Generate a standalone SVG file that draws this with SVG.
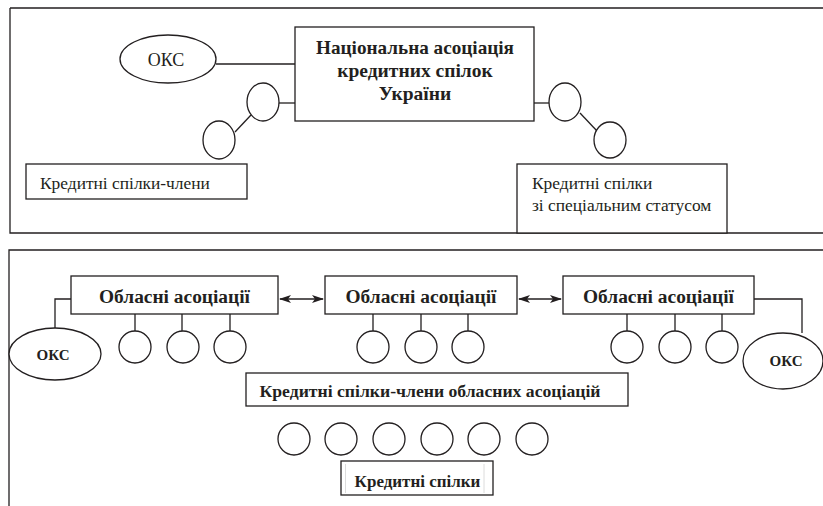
<svg xmlns="http://www.w3.org/2000/svg" width="823" height="506" viewBox="0 0 823 506">
<defs>
<marker id="ah" viewBox="0 0 12 8" refX="11" refY="4" markerWidth="12" markerHeight="8" markerUnits="userSpaceOnUse" orient="auto-start-reverse">
<path d="M0,0 L12,4 L0,8 L3,4 Z" fill="#231f20"/>
</marker>
</defs>
<style>
.b{fill:#fff;stroke:#231f20;stroke-width:1.3}
.l{fill:none;stroke:#231f20;stroke-width:1.3}
text{font-family:'Liberation Serif','DejaVu Serif',serif;fill:#231f20}
.bd{font-weight:bold}
</style>
<rect x="0" y="0" width="823" height="506" fill="#fff"/>
<g id="panel-top"><path class="l" d="M10,8 H823 M10,8 V233 H823"/></g>
<g id="panel-bottom"><path class="l" d="M9,506 V250 H823"/></g>
<g id="connectors">
<path class="l" d="M216,64 H295"/>
<path class="l" d="M279,103 H295"/>
<path class="l" d="M235,132 L251,115"/>
<path class="l" d="M534,103 H549"/>
<path class="l" d="M580,113 L597,131"/>
<path class="l" d="M71,299 H55 V329"/>
<path class="l" d="M754,299 H802 V333"/>
<path class="l" d="M280,299 H323" marker-start="url(#ah)" marker-end="url(#ah)"/>
<path class="l" d="M519,299 H561" marker-start="url(#ah)" marker-end="url(#ah)"/>
<path class="l" d="M135,314 V331 M182,314 V331 M230,314 V331"/>
<path class="l" d="M373,314 V331 M421,314 V331 M468,314 V331"/>
<path class="l" d="M627,314 V331 M675,314 V331 M722,314 V331"/>
</g>
<g id="nau">
<rect class="b" x="295" y="27" width="239" height="94"/>
<text class="bd" x="415" y="54" font-size="19.5" text-anchor="middle" textLength="198" lengthAdjust="spacingAndGlyphs">Національна асоціація</text>
<text class="bd" x="415" y="77" font-size="19.5" text-anchor="middle">кредитних спілок</text>
<text class="bd" x="415" y="100" font-size="19.5" text-anchor="middle">України</text>
</g>
<g id="oks-top">
<ellipse class="b" cx="168" cy="59" rx="48" ry="24"/>
<text x="166" y="66" font-size="18" text-anchor="middle">ОКС</text>
</g>
<g id="c-t1"><ellipse class="b" cx="263" cy="102" rx="16" ry="19"/></g>
<g id="c-t2"><ellipse class="b" cx="219" cy="140" rx="16" ry="19"/></g>
<g id="c-t3"><ellipse class="b" cx="565" cy="102" rx="16" ry="19"/></g>
<g id="c-t4"><ellipse class="b" cx="610" cy="140" rx="16" ry="18"/></g>
<g id="members">
<rect class="b" x="26" y="164" width="221" height="35"/>
<text x="40" y="189" font-size="17.4">Кредитні спілки-члени</text>
</g>
<g id="special">
<rect class="b" x="517" y="164" width="210" height="69"/>
<text x="532" y="189" font-size="17.4">Кредитні спілки</text>
<text x="532" y="211" font-size="17.4">зі спеціальним статусом</text>
</g>
<g id="obl1">
<rect class="b" x="71" y="276" width="207" height="38"/>
<text class="bd" x="174.5" y="303" font-size="18.5" text-anchor="middle" textLength="151" lengthAdjust="spacingAndGlyphs">Обласні асоціації</text>
</g>
<g id="obl2">
<rect class="b" x="325" y="276" width="192" height="38"/>
<text class="bd" x="421" y="303" font-size="18.5" text-anchor="middle" textLength="151" lengthAdjust="spacingAndGlyphs">Обласні асоціації</text>
</g>
<g id="obl3">
<rect class="b" x="563" y="276" width="191" height="38"/>
<text class="bd" x="658.5" y="303" font-size="18.5" text-anchor="middle" textLength="151" lengthAdjust="spacingAndGlyphs">Обласні асоціації</text>
</g>
<g id="oks-left">
<ellipse class="b" cx="55" cy="354" rx="46" ry="26"/>
<text class="bd" x="53" y="360" font-size="15" text-anchor="middle">ОКС</text>
</g>
<g id="oks-right">
<ellipse class="b" cx="783" cy="361" rx="40" ry="28"/>
<text class="bd" x="786" y="366" font-size="15" text-anchor="middle">ОКС</text>
</g>
<g id="circles-row1">
<circle class="b" cx="135" cy="347" r="16"/>
<circle class="b" cx="183" cy="347" r="16"/>
<circle class="b" cx="230" cy="347" r="16"/>
<circle class="b" cx="373" cy="347" r="16"/>
<circle class="b" cx="421" cy="347" r="16"/>
<circle class="b" cx="468" cy="347" r="16"/>
<circle class="b" cx="627" cy="347" r="16"/>
<circle class="b" cx="675" cy="347" r="16"/>
<circle class="b" cx="722" cy="347" r="16"/>
</g>
<g id="members-obl">
<rect class="b" x="246" y="373" width="382" height="33"/>
<text class="bd" x="430" y="397" font-size="17.5" text-anchor="middle" textLength="341" lengthAdjust="spacingAndGlyphs">Кредитні спілки-члени обласних асоціацій</text>
</g>
<g id="circles-row2">
<circle class="b" cx="294" cy="439" r="16"/>
<circle class="b" cx="341" cy="439" r="16"/>
<circle class="b" cx="389" cy="439" r="16"/>
<circle class="b" cx="437" cy="439" r="16"/>
<circle class="b" cx="484" cy="439" r="16"/>
<circle class="b" cx="532" cy="439" r="16"/>
</g>
<g id="cu">
<rect class="b" x="341" y="461" width="152" height="34"/>
<path d="M345.5,464 V493 M484,464 V493" fill="none" stroke="#dcdcdc" stroke-width="1"/>
<text class="bd" x="417.5" y="487" font-size="17" text-anchor="middle">Кредитні спілки</text>
</g>
</svg>
